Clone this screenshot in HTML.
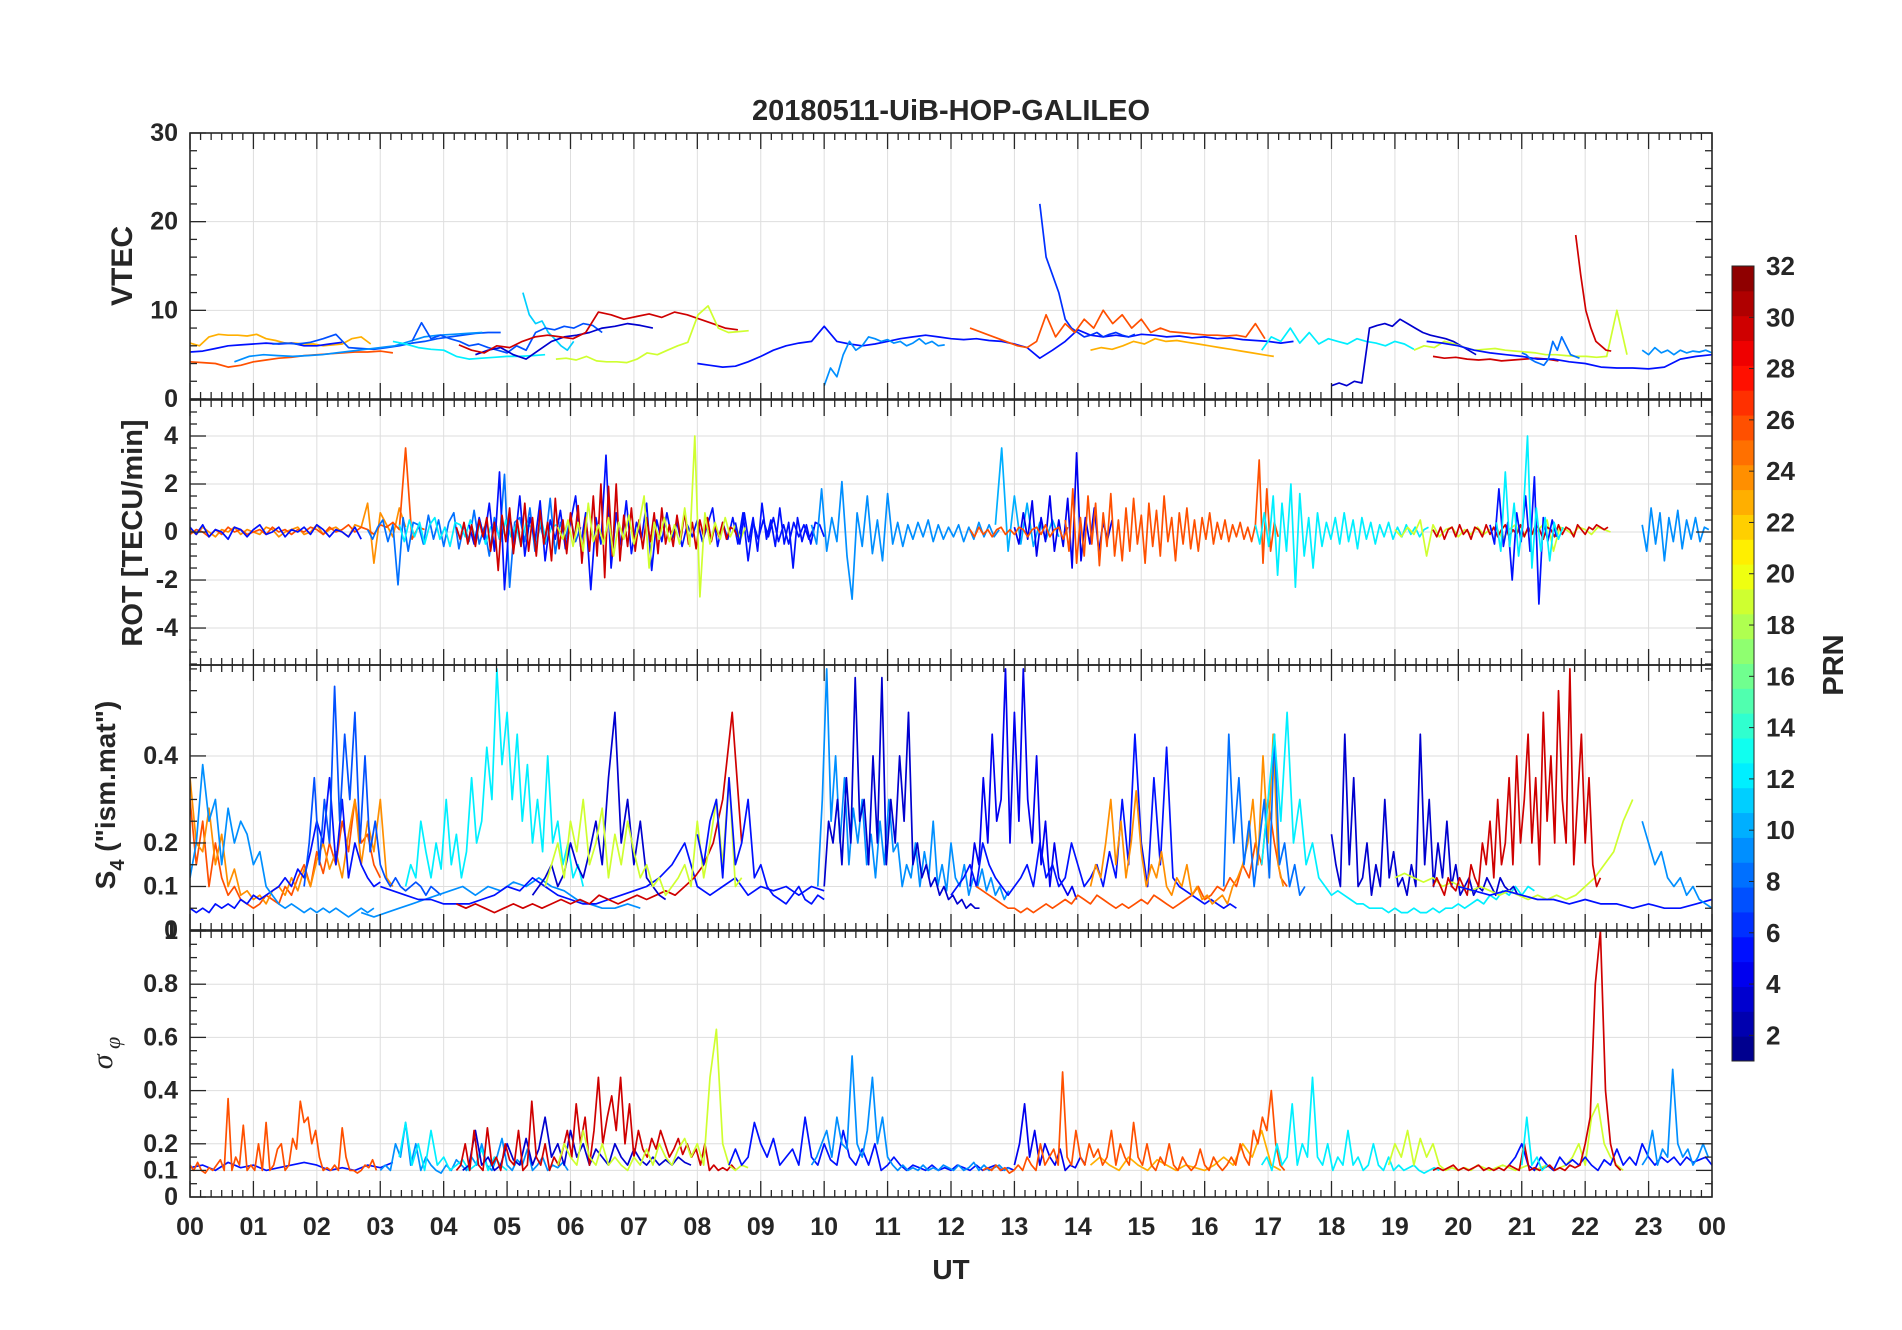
<!DOCTYPE html>
<html><head><meta charset="utf-8"><style>
html,body{margin:0;padding:0;background:#fff}
svg{display:block}
text{font-family:"Liberation Sans",Arial,sans-serif;fill:#262626;font-weight:bold}
</style></head><body>
<svg id="chart" width="1902" height="1330" viewBox="0 0 1902 1330" xmlns="http://www.w3.org/2000/svg">
<defs>
<clipPath id="c1"><rect x="190" y="133" width="1522" height="266"/></clipPath>
<clipPath id="c2"><rect x="190" y="400" width="1522" height="265"/></clipPath>
<clipPath id="c3"><rect x="190" y="665" width="1522" height="265"/></clipPath>
<clipPath id="c4"><rect x="190" y="931" width="1522" height="266"/></clipPath>
</defs>
<g id="grid"></g>
<g id="series"></g>
<g id="axes"></g>
<text x="951" y="120" text-anchor="middle" font-size="29">20180511-UiB-HOP-GALILEO</text>
<text transform="translate(132,266) rotate(-90)" text-anchor="middle" font-size="30">VTEC</text>
<text transform="translate(142,533) rotate(-90)" text-anchor="middle" font-size="29">ROT [TECU/min]</text>
<text transform="translate(115,795) rotate(-90)" text-anchor="middle" font-size="28">S<tspan font-size="20" dy="9">4</tspan><tspan dy="-9"> ("ism.mat")</tspan></text>
<text transform="translate(112,1053) rotate(-90)" text-anchor="middle" font-size="30" style="font-family:'Liberation Serif',serif;font-style:italic;font-weight:normal">σ<tspan font-size="22" dy="8"> φ</tspan></text>
<text x="951" y="1279" text-anchor="middle" font-size="28">UT</text>
<g id="cbar"></g>
<text transform="translate(1843,665) rotate(-90)" text-anchor="middle" font-size="29">PRN</text>
</svg>
<script>
// ---------- data (hours, values) ----------
const hourLabels=["00","01","02","03","04","05","06","07","08","09","10","11","12","13","14","15","16","17","18","19","20","21","22","23","00"];
const vtecTicks=[0,10,20,30];
const rotTicks=[-4,-2,0,2,4];
const s4Ticks=[0,0.1,0.2,0.4];
const sigTicks=[0,0.1,0.2,0.4,0.6,0.8,1];
const prnTicks=[2,4,6,8,10,12,14,16,18,20,22,24,26,28,30,32];

// VTEC
const vA=[6.3,6.0,7.0,7.3,7.2,7.2,7.1,7.3,6.8,6.6,6.3,6.3,6.2,6.2,6.0,6.1,6.2,6.8,7.0,6.2];
const vB=[5.3,5.4,5.7,6.0,6.1,6.2,6.3,6.2,6.3,6.0,6.0,6.2,6.4];
const vC=[6.2,6.3,6.2,6.4,6.8,7.3,5.8,5.7,5.6,5.8,6.0,6.3,6.5,6.8,7.0,7.2,7.4,7.5,7.5];
const vD=[4.2,4.1,4.0,3.6,3.8,4.2,4.4,4.6,4.7,4.9,5.0,5.1,5.2,5.3,5.3,5.4,5.2];
const vE=[4.2,4.8,5.0,4.9,4.8,4.9,5.0,5.2,5.4,5.6,5.8,6.0,6.5,7.0,7.2,7.3,7.4,7.5];
const vF=[6.5,6.2,5.8,5.6,5.5,4.8,4.5,4.6,4.7,4.8,4.8,4.9,5.0];
const vG=[12,9.5,8.5,8.8,7.5,6.8,6.0,5.5,6.5];
const vH=[6.5,8.6,6.8,7.2,6.8,6.5,6.0,6.2,5.8,5.5,5.2,6.0,5.5,7.5,8.0,7.8,8.2,8.0,8.5,8.3,7.5];
const vI=[5.0,5.5,5.8,5.0,4.5,5.5,6.5,7.0,7.2,7.5,8.0,8.2,8.5,8.3,8.0];
const vJ=[6.1,5.5,5.2,6.0,5.8,6.5,7.0,7.2,7.0,6.8,7.5,9.8,9.5,9.0,9.3,9.6,9.2,9.8,9.5,9.0,8.5,8.0,7.8];
const vK=[4.5,4.6,4.4,4.8,4.3,4.2,4.2,4.1,4.5,5.2,5.0,5.5,6.0,6.4,9.5,10.5,8.0,7.5,7.6,7.7];
const vL=[4.0,3.8,3.6,3.7,4.2,4.8,5.5,6.0,6.3,6.5,8.2,6.5,6.2,6.0,6.2,6.5,6.8,7.0,7.2,7.0,6.8,6.7,6.8,6.6,6.5,6.2,5.8,4.6,5.5,6.5,7.8,7.2,7.0,7.2,7.0,7.3,7.2,7.0,7.1,6.9,7.0,6.8,6.9,6.7,6.6,6.5,6.3,6.5];
const vM=[1.5,3.5,2.5,5.0,6.5,5.5,6.0,7.0,6.8,6.5,6.7,6.3,6.5,6.0,6.3,6.8,6.2,6.5,6.0,6.1];
const vN=[22,16,14,12,9,8,7.5,7.0,7.2,7.5,7.0,7.3,7.5,7.2,7.0,7.3];
const vO=[8.0,7.6,7.2,6.8,6.4,6.0,5.8,6.5,9.5,7.0,8.5,7.5,9.0,8.0,10,8.5,9.5,8.0,9.0,7.5,8.0,7.6,7.5,7.4,7.3,7.2,7.2,7.1,7.2,7.0,8.5,6.8];
const vP=[5.5,5.8,5.6,6.0,6.5,6.2,6.8,6.5,6.6,6.4,6.2,6.0,5.8,5.6,5.4,5.2,5.0,4.8];
const vQ=[5.5,7.0,6.5,8.0,6.3,7.5,6.2,6.8,6.5,6.2,6.8,6.5,6.3,6.0,6.5,6.2,5.6];
const vR=[1.5,1.8,1.5,2.0,1.8,8.0,8.3,8.5,8.2,9.0,8.5,8.0,7.5,7.2,7.0,6.8,6.5,6.0,5.5,5.0];
const vS=[5.5,6.0,5.8,6.5,6.2,5.8,5.5,5.6,5.7,5.5,5.4,5.3,5.2,5.0,5.0,4.9,4.8,4.8,4.7,4.8,10,5.0];
const vT=[4.8,4.6,4.7,4.5,4.4,4.5,4.3,4.4,4.5,4.6,4.5,4.3];
const vU=[18.5,14,10,8,6.5,6.0,5.5,5.4];
const vV=[6.5,6.3,6.0,5.5,5.2,5.0,4.8,4.5,4.5,4.2,4.0,3.6,3.5,3.5,3.4,3.6,4.5,4.8,5.0];
const vW=[5.5,5.0,5.8,5.2,5.5,5.0,5.5,5.2,5.4,5.3,5.5,5.2];
const vX=[5.2,5.0,4.5,4.2,4.0,3.8,4.5,6.5,5.5,7.0,6.0,5.0,4.8,4.6];

// ROT
const rA=[0.1,-0.1,0.2,0,-0.2,0.1,0,0.2,-0.1,0.1,0,-0.1,0.2,0.1,-0.2,0,0.1,0.2,-0.1,0,0.3,-0.1,0.1,0.2,0,-0.2,0.3,0.2,1.2,-1.3,0.8,0.3,-0.2,1.0,0.2];
const rB=[-0.1,0.1,0,-0.2,0.1,-0.1,0.2,0,0.1,-0.1,0,0.1,-0.1,0.2,0,0.1,-0.1,0.1,0,0.2,0.1,-0.1,0.2,0,0.1,0.3,0,0.2,0.1,-0.1,0.3,0.2,0.4,0.1,3.5,-0.3,0.2,0.1];
const rC=[0.2,-0.1,0.3,-0.2,0.1,0,-0.3,0.2,0.1,-0.2,0.1,0.3,-0.1,0,0.2,-0.2,0.1,0,0.2,-0.1,0.3,0.1,-0.2,0.1,0,-0.2,0.2,-0.3];
const rD=[0.1,-0.3,0.2,0.5,-0.4,0.3,-2.2,0.6,-0.8,0.4,0.3,-0.5,0.7,-0.3,0.5,-0.6,0.4,0.8,-0.7,0.3,-0.4,0.9,-0.5,0.2,-1.0,0.6,-0.3,2.4,-2.3,0.4,0.6,-0.4,1.0,-0.8,0.3,-0.5,1.4,-0.9,0.4,-0.3,0.6,-0.4,0.2];
const rE=[0.3,-0.4,0.5,-0.2,0.4,-0.5,0.3,0.6,-0.3,0.2,-0.6,0.4,0.3,-0.2,0.5,-0.3,0.4,-0.5,0.2,0.3,-0.4,0.5,-0.2,0.3,-0.6,0.4,0.2,-0.3,0.5,-0.4,0.2,0.3];
const rF=[0.2,-0.3,0.4,-0.5,0.3,-0.6,0.5,-0.2,0.6,-0.8,0.4,-1.6,0.7,-0.4,1.0,-0.9,0.5,-0.6,1.2,-0.8,0.6,-1.0,0.9,-0.5,0.4,-1.2,1.4,-0.7,0.5,-0.9,0.8,-0.4,1.1,-1.3,0.6,-0.8,1.5,-1.0,2.0,-1.9,1.9,-1.0,2.0,-1.2,0.7,-0.6,1.0,-0.8,0.5,-0.7,0.6,-0.4,0.8,-0.9,1.0,-0.5,0.3,-0.6,0.7,-0.3,0.8,-0.5,0.4,-0.7,0.5,-0.2,0.6,-0.4,0.3,-0.2,0.4,-0.3,0.2,0.1,-0.2];
const rG=[0.3,-0.5,0.6,-0.3,1.2,-0.8,2.5,-2.4,0.7,-0.5,1.5,-1.0,0.6,-0.4,1.3,-1.2,0.5,-0.3,0.9,-0.7,0.4,1.5,-0.6,0.8,-2.4,0.6,-0.5,3.2,-1.5,0.8,-0.6,1.3,-0.9,0.4,-0.3,1.2,-1.6,0.5,-0.4,0.8,-0.3,0.4,-0.6,0.3,-0.2,0.5,-0.4,0.3,1.0,-0.6,0.4,-0.3,0.6,-0.5,0.8,-1.2,0.4,-0.3,0.5,-0.2,0.6,-0.4,0.3,-0.5,0.4,-0.2,0.3,-0.3,0.2];
const rH=[0.2,-0.3,0.5,-0.6,0.4,-0.8,1.2,-0.4,0.3,-0.5,0.6,-1.0,0.4,-0.3,0.7,-0.5,0.3,1.5,-1.5,0.4,-0.3,0.6,-0.4,0.3,-0.5,1.0,-0.6,4.0,-2.7,0.8,-0.5,0.4,-0.3,0.6,-0.2,0.3,-0.3,0.2];
const rI=[0.4,-0.5,0.8,-0.4,0.6,-0.8,1.2,-0.3,0.5,-0.6,1.0,-0.5,0.4,-1.5,0.6,-0.4,0.3,-0.5,0.4,0.3,-0.2];
const rJ=[0.3,-0.5,1.8,-0.8,0.6,-0.4,2.1,-1.0,-2.8,0.8,-0.6,1.5,-0.9,0.5,-1.2,1.6,-0.5,0.4,-0.6,0.3,-0.3,0.4,-0.2,0.5,-0.4,0.3,-0.3,0.2,-0.2,0.3,-0.4,0.2,-0.3,0.4,-0.2,0.3,-0.2,0.1];
const rK=[0.3,3.5,-0.8,1.5,-0.5,1.2,-0.6,0.4,-0.3,0.5,-0.2];
const rL=[0.2,-0.5,0.8,-0.3,1.3,-1.0,0.6,-0.4,1.5,-0.8,0.5,-0.6,1.4,-1.5,3.3,-1.2,0.6,-0.5,1.0,-0.8,0.4,-0.3,0.5];
const rM=[0.1,-0.2,0.2,-0.1,0.1,-0.2,0.1,0.2,-0.1,0.1,-0.1,0.2,0.1,-0.2,0.1,0.2,-0.1,0.3,-0.2,0.1,0.2,-0.3,0.2];
const rN=[0.5,-0.8,1.8,-1.3,0.6,-1.0,1.5,-0.5,1.2,-1.4,0.8,-0.6,1.6,-1.0,0.5,-1.2,1.0,-0.8,1.4,-0.5,0.7,-1.3,1.2,-0.6,0.9,-1.0,1.5,-0.4,0.6,-1.2,0.8,-0.5,1.0,-0.7,0.5,-0.8,0.6,-0.3,0.8,-0.5,0.4,-0.3,0.5,-0.4,0.3,-0.2,0.4,-0.3,0.2,-0.4,0.3,3.0,-1.3,1.8,-0.8,0.4,-0.2];
const rO=[0.3,-0.5,0.8,-0.6,1.5,-1.8,1.2,-0.8,2.0,-2.3,1.6,-1.0,0.6,-1.5,0.8,-0.6,0.4,-0.3,0.6,-0.5,0.8,-0.4,0.5,-0.7,0.6,-0.3,0.4,-0.5,0.3,-0.2,0.4,-0.3,0.2,-0.2,0.3,-0.1,0.2,-0.2,0.1,0.2];
const rP=[0.1,-0.2,0.2,-0.1,0.5,-1.0,0.3,-0.2,0.1,0.2,-0.2,0.1,-0.1,0.2,-0.1,0.1,0.2,-0.3,0.1,0.3,-0.2,0.1,-0.1,0.2,0.5,-0.8,0.2,0.1,-0.1,0.2,0.1,-0.1,0.2,0.1,0.0];
const rQ=[0.1,-0.2,0.2,-0.3,0.1,0.2,-0.2,0.3,-0.1,0.1,-0.3,0.2,0.1,-0.2,0.3,-0.1,0.2,-0.2,0.1,0.3,-0.2,0.1,-0.1,0.3,-0.2,0.2,-0.1,0.3,0.1,-0.3,0.2,0.1,-0.2,0.3,-0.1,0.2,0.1,-0.2,0.3,0.1,-0.1,0.2,0.1,0.3,0.2,0.1,0.2];
const rR=[0.3,-0.5,1.8,-0.6,0.4,-2.0,0.8,-0.4,1.5,-0.8,2.3,-3.0,0.6,-0.4,0.5,-0.2];
const rS=[0.4,-0.8,2.5,-0.6,1.2,-1.0,0.5,4.0,-1.5,1.0,-0.8,0.6,-1.2,0.4,-0.3,0.2];
const rT=[0.3,-0.8,1.0,-0.5,0.8,-1.2,0.6,-0.4,0.9,-0.7,0.5,-0.3,0.6,-0.4,0.2,0.1];

// S4
const sA=[0.3,0.15,0.25,0.1,0.2,0.12,0.08,0.1,0.07,0.06,0.05,0.06,0.08,0.07,0.06,0.1,0.08,0.12,0.15,0.1,0.18,0.13,0.2,0.15,0.25,0.18,0.3,0.2,0.22,0.15,0.12];
const sB=[0.35,0.2,0.18,0.28,0.15,0.22,0.1,0.14,0.08,0.09,0.07,0.08,0.06,0.09,0.1,0.08,0.12,0.09,0.14,0.1,0.16,0.2,0.14,0.18,0.12,0.22,0.3,0.15,0.25,0.18,0.3,0.12,0.1];
const sC=[0.05,0.04,0.05,0.04,0.06,0.05,0.06,0.05,0.07,0.06,0.08,0.07,0.08,0.09,0.1,0.12,0.1,0.14,0.12,0.18,0.25,0.2,0.35,0.15,0.3,0.12,0.2,0.15,0.12,0.1,0.11];
const sD=[0.12,0.2,0.38,0.25,0.3,0.15,0.28,0.2,0.25,0.22,0.15,0.18,0.1,0.08,0.06,0.05,0.06,0.05,0.04,0.05,0.04,0.05,0.04,0.05,0.04,0.03,0.04,0.05,0.04,0.05];
const sE=[0.1,0.2,0.35,0.15,0.3,0.2,0.56,0.25,0.45,0.3,0.5,0.2,0.4,0.18,0.25,0.15,0.12,0.1,0.12,0.1,0.09,0.1,0.11,0.1,0.08,0.1,0.09,0.08];
const sF=[0.04,0.03,0.04,0.05,0.06,0.07,0.08,0.09,0.1,0.08,0.1,0.09,0.11,0.1,0.12,0.1,0.09,0.07,0.06,0.05,0.05,0.06,0.05];
const sG=[0.1,0.09,0.08,0.07,0.07,0.06,0.06,0.06,0.07,0.08,0.1,0.09,0.12,0.1,0.08,0.07,0.06,0.06,0.07,0.08,0.09,0.1,0.12,0.15,0.2,0.1,0.08,0.1,0.12,0.08,0.1,0.09,0.1,0.08,0.1,0.09];
const sH=[0.1,0.15,0.12,0.25,0.18,0.12,0.2,0.14,0.3,0.15,0.22,0.12,0.18,0.35,0.2,0.25,0.42,0.3,0.6,0.38,0.5,0.3,0.45,0.25,0.38,0.2,0.3,0.18,0.4,0.2,0.25,0.15,0.2,0.12,0.15,0.1];
const sI=[0.06,0.05,0.06,0.05,0.04,0.05,0.06,0.05,0.06,0.05,0.06,0.07,0.06,0.07,0.06,0.08,0.07,0.06,0.07,0.08,0.07,0.08,0.09,0.08,0.1,0.12,0.15,0.2,0.3,0.5,0.2];
const sJ=[0.08,0.1,0.12,0.15,0.1,0.13,0.2,0.15,0.12,0.18,0.25,0.15,0.35,0.5,0.2,0.3,0.15,0.25,0.12,0.1,0.08,0.07];
const sK=[0.1,0.15,0.2,0.12,0.25,0.18,0.3,0.15,0.2,0.28,0.12,0.22,0.15,0.25,0.18,0.12,0.15,0.1,0.12,0.08,0.1,0.12,0.15,0.1,0.25,0.12,0.2,0.3,0.15,0.35,0.1,0.12];
const sL=[0.22,0.15,0.25,0.3,0.12,0.35,0.15,0.2,0.3,0.12,0.15,0.1,0.08,0.07,0.06,0.08,0.1,0.07,0.06,0.08,0.07];
const sM=[0.1,0.3,0.6,0.25,0.4,0.2,0.35,0.15,0.28,0.2,0.3,0.15,0.22,0.12,0.25,0.15,0.3,0.18,0.2,0.1,0.15,0.12,0.2,0.1,0.18,0.12,0.25,0.1,0.15,0.09,0.2,0.12,0.1,0.15,0.08,0.12,0.1,0.14,0.09,0.12,0.08,0.1,0.07,0.09];
const sN=[0.1,0.25,0.2,0.3,0.15,0.35,0.2,0.58,0.25,0.3,0.15,0.4,0.2,0.58,0.15,0.3,0.2,0.4,0.25,0.5,0.15,0.2,0.12,0.15,0.1,0.12,0.08,0.1,0.07,0.08,0.06,0.07,0.05,0.06,0.05,0.05];
const sO=[0.1,0.2,0.15,0.35,0.2,0.45,0.25,0.3,0.6,0.2,0.5,0.25,0.6,0.3,0.2,0.4,0.15,0.25,0.1,0.2,0.12,0.1,0.08,0.1,0.07];
const sP=[0.08,0.1,0.12,0.15,0.1,0.2,0.15,0.12,0.1,0.08,0.1,0.12,0.15,0.1,0.2,0.12,0.15,0.1,0.12,0.2,0.15,0.1,0.12,0.15,0.1,0.18,0.12,0.3,0.15,0.45,0.2,0.1,0.35,0.15,0.42,0.12,0.1,0.09,0.08,0.07,0.06,0.07,0.06,0.05,0.06,0.05];
const sQ=[0.1,0.09,0.08,0.07,0.06,0.05,0.05,0.04,0.05,0.04,0.05,0.06,0.05,0.06,0.07,0.06,0.08,0.07,0.06,0.08,0.07,0.06,0.05,0.06,0.05,0.06,0.07,0.06,0.08,0.07,0.06,0.05,0.06,0.07,0.08,0.1,0.07,0.08,0.1,0.09,0.12,0.1,0.15,0.12,0.2,0.15,0.3,0.2,0.12,0.1];
const sR=[0.1,0.15,0.12,0.2,0.3,0.15,0.25,0.12,0.2,0.32,0.18,0.1,0.15,0.12,0.18,0.1,0.08,0.12,0.1,0.15,0.08,0.1,0.07,0.08,0.06,0.07,0.08,0.06,0.1,0.12,0.15,0.2,0.3,0.15,0.4,0.2,0.45,0.15,0.1];
const sS=[0.1,0.45,0.2,0.35,0.15,0.25,0.1,0.2,0.3,0.12,0.45,0.15,0.2,0.1,0.15,0.08,0.1];
const sT=[0.15,0.3,0.45,0.25,0.5,0.2,0.3,0.15,0.2,0.12,0.1,0.08,0.09,0.08,0.07,0.06,0.06,0.05,0.05,0.05,0.04,0.05,0.04,0.04,0.05,0.04,0.04,0.05,0.04,0.05,0.05,0.06,0.05,0.06,0.07,0.06,0.08,0.07,0.09,0.08,0.1,0.08,0.1,0.09];
const sU=[0.22,0.15,0.1,0.45,0.15,0.35,0.1,0.12,0.2,0.08,0.15,0.1,0.3,0.12,0.18,0.1,0.12,0.08,0.15,0.1,0.45,0.15,0.3,0.1,0.2,0.12,0.25,0.1,0.15,0.08,0.1,0.12,0.08,0.1,0.09,0.12,0.1,0.08,0.12,0.1,0.09,0.1,0.08];
const sV=[0.12,0.13,0.12,0.11,0.12,0.1,0.11,0.1,0.09,0.1,0.09,0.08,0.09,0.08,0.07,0.08,0.07,0.08,0.07,0.08,0.1,0.12,0.15,0.18,0.25,0.3];
const sW=[0.1,0.12,0.1,0.08,0.12,0.1,0.09,0.12,0.1,0.08,0.15,0.12,0.1,0.2,0.15,0.25,0.12,0.3,0.15,0.2,0.35,0.15,0.4,0.2,0.3,0.45,0.2,0.35,0.15,0.5,0.25,0.4,0.2,0.55,0.3,0.2,0.6,0.15,0.3,0.45,0.2,0.35,0.15,0.1,0.12];
const sX=[0.1,0.09,0.08,0.09,0.08,0.07,0.07,0.06,0.07,0.06,0.06,0.05,0.06,0.05,0.05,0.06,0.07];
const sY=[0.25,0.2,0.15,0.18,0.12,0.1,0.12,0.08,0.1,0.07,0.06,0.05];

// sigma phi
const gA=[0.12,0.1,0.13,0.1,0.09,0.11,0.1,0.12,0.14,0.1,0.37,0.1,0.15,0.12,0.27,0.1,0.12,0.1,0.2,0.1,0.28,0.1,0.12,0.18,0.2,0.1,0.12,0.22,0.18,0.36,0.28,0.3,0.2,0.25,0.15,0.1,0.11,0.1,0.12,0.1,0.26,0.15,0.1,0.1,0.09,0.1,0.12,0.11,0.14,0.1];
const gB=[0.11,0.12,0.1,0.13,0.11,0.12,0.1,0.11,0.12,0.13,0.12,0.1,0.11,0.1,0.12,0.11,0.13];
const gC=[0.1,0.12,0.1,0.2,0.15,0.28,0.12,0.2,0.1,0.15,0.12,0.1,0.09,0.12,0.1,0.14,0.12,0.1,0.15,0.12,0.2,0.12,0.1,0.15,0.22,0.12,0.1,0.14,0.12,0.18,0.1,0.12,0.15,0.1,0.12,0.11,0.13,0.1];
const gD=[0.15,0.28,0.12,0.2,0.1,0.25,0.12,0.15,0.1,0.12,0.14,0.1,0.12,0.18,0.1,0.15,0.12,0.1];
const gE=[0.1,0.12,0.2,0.1,0.25,0.12,0.1,0.26,0.12,0.15,0.1,0.2,0.14,0.12,0.25,0.1,0.12,0.36,0.15,0.12,0.2,0.1,0.15,0.12,0.18,0.25,0.15,0.35,0.2,0.3,0.12,0.25,0.45,0.2,0.3,0.38,0.25,0.45,0.2,0.35,0.15,0.25,0.18,0.15,0.22,0.18,0.25,0.2,0.15,0.18,0.22,0.16,0.2,0.15,0.18,0.12,0.2,0.1,0.12,0.1,0.11,0.1,0.12,0.1];
const gF=[0.1,0.12,0.25,0.12,0.15,0.1,0.12,0.2,0.14,0.12,0.22,0.12,0.18,0.3,0.15,0.2,0.12,0.25,0.15,0.2,0.12,0.18,0.15,0.12,0.2,0.15,0.12,0.18,0.14,0.12,0.15,0.12,0.14,0.12,0.15,0.13,0.12];
const gG=[0.12,0.2,0.15,0.12,0.25,0.15,0.12,0.2,0.12,0.15,0.12,0.1,0.15,0.12,0.18,0.12,0.2,0.15,0.12,0.18,0.22,0.15,0.2,0.12,0.45,0.63,0.2,0.12,0.1,0.12,0.11];
const gH=[0.12,0.18,0.12,0.15,0.28,0.2,0.15,0.22,0.12,0.15,0.18,0.12,0.3,0.15,0.12,0.2,0.14,0.12,0.25,0.15,0.12,0.18,0.12,0.2,0.1,0.12,0.15,0.12,0.1,0.12,0.11,0.1,0.12,0.1,0.11,0.1,0.12,0.11,0.1,0.12,0.1,0.11,0.12,0.1,0.11,0.1];
const gI=[0.12,0.15,0.2,0.25,0.15,0.3,0.2,0.18,0.53,0.2,0.15,0.25,0.45,0.2,0.3,0.15,0.12,0.1,0.12,0.1,0.11,0.1,0.12,0.1,0.11,0.1,0.12,0.11,0.1,0.12,0.1,0.11,0.13,0.1,0.12,0.1,0.11,0.12,0.1,0.11];
const gJ=[0.12,0.2,0.35,0.15,0.25,0.12,0.2,0.15,0.12,0.18,0.1,0.12,0.11,0.15,0.12];
const gK=[0.1,0.11,0.1,0.12,0.1,0.11,0.09,0.1,0.12,0.1,0.15,0.12,0.1,0.2,0.12,0.15,0.18,0.12,0.47,0.15,0.12,0.25,0.15,0.12,0.2,0.15,0.18,0.12,0.15,0.25,0.12,0.2,0.15,0.12,0.28,0.15,0.12,0.2,0.12,0.1,0.15,0.12,0.2,0.12,0.1,0.15,0.12,0.1,0.12,0.18,0.12,0.1,0.15,0.12,0.1,0.12,0.15,0.12,0.2,0.15,0.12,0.25,0.2,0.3,0.25,0.4,0.2,0.12,0.1];
const gL=[0.12,0.15,0.12,0.1,0.15,0.12,0.1,0.14,0.12,0.1,0.12,0.11,0.1,0.12,0.15,0.12,0.2,0.15,0.25,0.12,0.1];
const gM=[0.12,0.15,0.1,0.2,0.12,0.15,0.35,0.12,0.2,0.15,0.45,0.15,0.12,0.2,0.1,0.15,0.12,0.25,0.12,0.15,0.1,0.12,0.2,0.12,0.1,0.15,0.1,0.12,0.1,0.11,0.12,0.1,0.09,0.1,0.11,0.1];
const gN=[0.12,0.2,0.15,0.25,0.12,0.22,0.15,0.2,0.12,0.1,0.11,0.1,0.11,0.1,0.12,0.11,0.1,0.11,0.12,0.11,0.1,0.11,0.12,0.1,0.11,0.12,0.1,0.11,0.12,0.15,0.2,0.12,0.3,0.35,0.2,0.15,0.12,0.1];
const gO=[0.1,0.11,0.1,0.11,0.12,0.1,0.11,0.1,0.11,0.12,0.1,0.11,0.1,0.11,0.1,0.12,0.11,0.1,0.2,0.1,0.11,0.1,0.11,0.12,0.1,0.11,0.1,0.12,0.11,0.12,0.2,0.3,0.8,1.0,0.4,0.2,0.12,0.1];
const gP=[0.12,0.15,0.2,0.12,0.1,0.15,0.12,0.1,0.15,0.12,0.14,0.12,0.15,0.12,0.1,0.14,0.12,0.18,0.12,0.15,0.12,0.2,0.15,0.12,0.15,0.13,0.15,0.12,0.15,0.13,0.14,0.15,0.12];
const gQ=[0.12,0.15,0.25,0.12,0.18,0.15,0.48,0.2,0.15,0.18,0.12,0.15,0.2,0.15];
const gR=[0.12,0.3,0.12,0.15,0.1,0.12];

// series list: [panel, prn, startHour, stepHours, values]
const vtecSeries=[[1,23,0,0.15,vA],[1,5,0,0.2,vB],[1,7,1.3,0.2,vC],[1,26,0,0.2,vD],[1,9,0.7,0.23,vE],[1,12,3.2,0.2,vF],[1,11,5.25,0.1,vG],[1,7,3.5,0.15,vH],[1,3,4.5,0.2,vI],[1,30,4.24,0.2,vJ],[1,19,5.77,0.16,vK],[1,5,8.0,0.2,vL],[1,9,10.0,0.1,vM],[1,6,13.4,0.1,vN],[1,26,12.3,0.15,vO],[1,23,14.2,0.17,vP],[1,12,16.9,0.15,vQ],[1,3,18.0,0.12,vR],[1,19,19.3,0.16,vS],[1,30,19.6,0.18,vT],[1,30,21.85,0.08,vU],[1,5,19.5,0.25,vV],[1,9,22.9,0.1,vW],[1,8,21.0,0.07,vX]];
const rotSeries=[[2,24,0,0.1,rA],[2,26,0,0.1,rB],[2,5,0,0.1,rC],[2,8,2.8,0.08,rD],[2,12,3.3,0.08,rE],[2,5,4.4,0.08,rG],[2,30,4.2,0.06,rF],[2,19,5.8,0.08,rH],[2,5,8.6,0.07,rI],[2,9,9.8,0.08,rJ],[2,10,12.7,0.1,rK],[2,4,13.0,0.07,rL],[2,26,12.3,0.07,rM],[2,26,13.8,0.06,rN],[2,12,16.8,0.07,rO],[2,19,19.0,0.1,rP],[2,30,19.6,0.06,rQ],[2,5,20.5,0.07,rR],[2,12,20.6,0.07,rS],[2,9,22.9,0.07,rT]];
const s4Series=[[3,26,0,0.1,sA],[3,24,0,0.1,sB],[3,5,0,0.1,sC],[3,9,0,0.1,sD],[3,7,1.8,0.08,sE],[3,9,2.7,0.2,sF],[3,5,3.0,0.2,sG],[3,12,3.4,0.08,sH],[3,30,4.2,0.15,sI],[3,3,5.4,0.1,sJ],[3,19,5.6,0.1,sK],[3,5,8.0,0.1,sL],[3,9,9.9,0.07,sM],[3,3,10.0,0.07,sN],[3,4,12.3,0.07,sO],[3,5,12.0,0.1,sP],[3,26,12.4,0.1,sQ],[3,24,14.2,0.08,sR],[3,8,16.3,0.08,sS],[3,12,16.9,0.1,sT],[3,3,18.0,0.07,sU],[3,19,19.0,0.15,sV],[3,30,19.6,0.06,sW],[3,5,20.0,0.25,sX],[3,9,22.9,0.1,sY]];
const sigSeries=[[4,5,0,0.2,gB],[4,26,0,0.06,gA],[4,9,3.0,0.08,gC],[4,12,3.3,0.1,gD],[4,3,4.3,0.1,gF],[4,30,4.2,0.07,gE],[4,19,5.8,0.1,gG],[4,5,8.5,0.1,gH],[4,9,9.8,0.08,gI],[4,4,13.0,0.08,gJ],[4,23,14.2,0.15,gL],[4,26,12.5,0.07,gK],[4,12,16.9,0.08,gM],[4,19,18.9,0.1,gN],[4,5,20.8,0.1,gP],[4,30,19.6,0.08,gO],[4,9,22.9,0.08,gQ],[4,12,21.0,0.08,gR]];

// ---------- geometry ----------
const X0=190,X1=1712;
const P={1:{t:133,b:399,min:0,max:30},2:{t:400,b:665,min:-5.54,max:5.5},3:{t:665,b:930,min:0,max:0.609},4:{t:931,b:1197,min:0,max:1}};
const xs=h=>X0+h*(X1-X0)/24;
const ys=(p,v)=>{const q=P[p];return q.b-(v-q.min)/(q.max-q.min)*(q.b-q.t);};
function jet(prn){const x=(prn-0.5)/32,c=v=>Math.round(255*Math.max(0,Math.min(1,v)));
 return `rgb(${c(1.5-Math.abs(4*x-3))},${c(1.5-Math.abs(4*x-2))},${c(1.5-Math.abs(4*x-1))})`;}
const NS="http://www.w3.org/2000/svg";
function mk(tag,attrs,parent){const e=document.createElementNS(NS,tag);for(const k in attrs)e.setAttribute(k,attrs[k]);parent.appendChild(e);return e;}
const G=document.getElementById('grid'),S=document.getElementById('series'),A=document.getElementById('axes'),CB=document.getElementById('cbar');

const panelInfo={1:{ticks:vtecTicks,minor:2,grid:[10,20]},2:{ticks:rotTicks,minor:0.5,grid:rotTicks},3:{ticks:s4Ticks,minor:0.05,grid:[0.1,0.2,0.4]},4:{ticks:sigTicks,minor:0.05,grid:[0.1,0.2,0.4,0.6,0.8]}};
const panelNames={1:'vtec',2:'rot',3:'s4',4:'sigma-phi'};
for(const p of [1,2,3,4]){
 const q=P[p],inf=panelInfo[p];
 for(let h=1;h<24;h++){const l=mk('line',{x1:xs(h),x2:xs(h),y1:q.t,y2:q.b,stroke:'#dedede','stroke-width':1},G);
  
  }
 for(const v of inf.grid){const l=mk('line',{x1:X0,x2:X1,y1:ys(p,v),y2:ys(p,v),stroke:'#dedede','stroke-width':1},G);
  
  }
 for(let k=0;k<=144;k++){const x=xs(k/6),len=k%6===0?16:7;
  const t1=mk('line',{x1:x,x2:x,y1:q.b,y2:q.b-len,stroke:'#262626','stroke-width':1.3},A);
  
  
  const t2=mk('line',{x1:x,x2:x,y1:q.t,y2:q.t+len,stroke:'#262626','stroke-width':1.3},A);
  
  }
 for(let v=Math.ceil(q.min/inf.minor)*inf.minor;v<=q.max+1e-9;v+=inf.minor){const y=ys(p,v),maj=inf.ticks.some(t=>Math.abs(t-v)<1e-6),len=maj?16:7;
  const t1=mk('line',{x1:X0,x2:X0+len,y1:y,y2:y,stroke:'#262626','stroke-width':1.3},A);
  
  
  const t2=mk('line',{x1:X1,x2:X1-len,y1:y,y2:y,stroke:'#262626','stroke-width':1.3},A);
  
  }
 for(const v of inf.ticks){const tx=mk('text',{x:178,y:ys(p,v)+8,'text-anchor':'end','font-size':25},A);tx.textContent=String(v);
  
  }
 const fr=mk('rect',{x:X0,y:q.t,width:X1-X0,height:q.b-q.t,fill:'none',stroke:'#262626','stroke-width':1.6},A);
 
 
}
hourLabels.forEach((lab,i)=>{const t=mk('text',{x:xs(i),y:1235,'text-anchor':'middle','font-size':25},A);t.textContent=lab;
 
 });

function draw(list){for(const [p,prn,t0,dt,vals] of list){
 const pts=vals.map((v,i)=>xs(t0+i*dt).toFixed(1)+','+ys(p,v).toFixed(1)).join(' ');
 const pl=mk('polyline',{points:pts,fill:'none',stroke:jet(prn),'stroke-width':1.7,'stroke-linejoin':'round','clip-path':`url(#c${p})`},S);
 
 }}
draw(vtecSeries);draw(rotSeries);draw(s4Series);draw(sigSeries);

const CT=266,CBt=1061,CX=1732,CW=22;
for(let i=1;i<=32;i++){const y0=CT+(CBt-CT)*(32-i)/32;
 const r=mk('rect',{x:CX,y:y0,width:CW,height:(CBt-CT)/32+0.5,fill:jet(i)},CB);
 
 }
const cf=mk('rect',{x:CX,y:CT,width:CW,height:CBt-CT,fill:'none',stroke:'#262626','stroke-width':1},CB);


for(const v of prnTicks){const y=CBt-(v-1)/31*(CBt-CT);
 const l=mk('line',{x1:CX+CW-5,x2:CX+CW,y1:y,y2:y,stroke:'#262626','stroke-width':1},CB);
 
 
 const t=mk('text',{x:1766,y:y+9,'font-size':26},CB);t.textContent=String(v);
 
 }
</script>
</body></html>
